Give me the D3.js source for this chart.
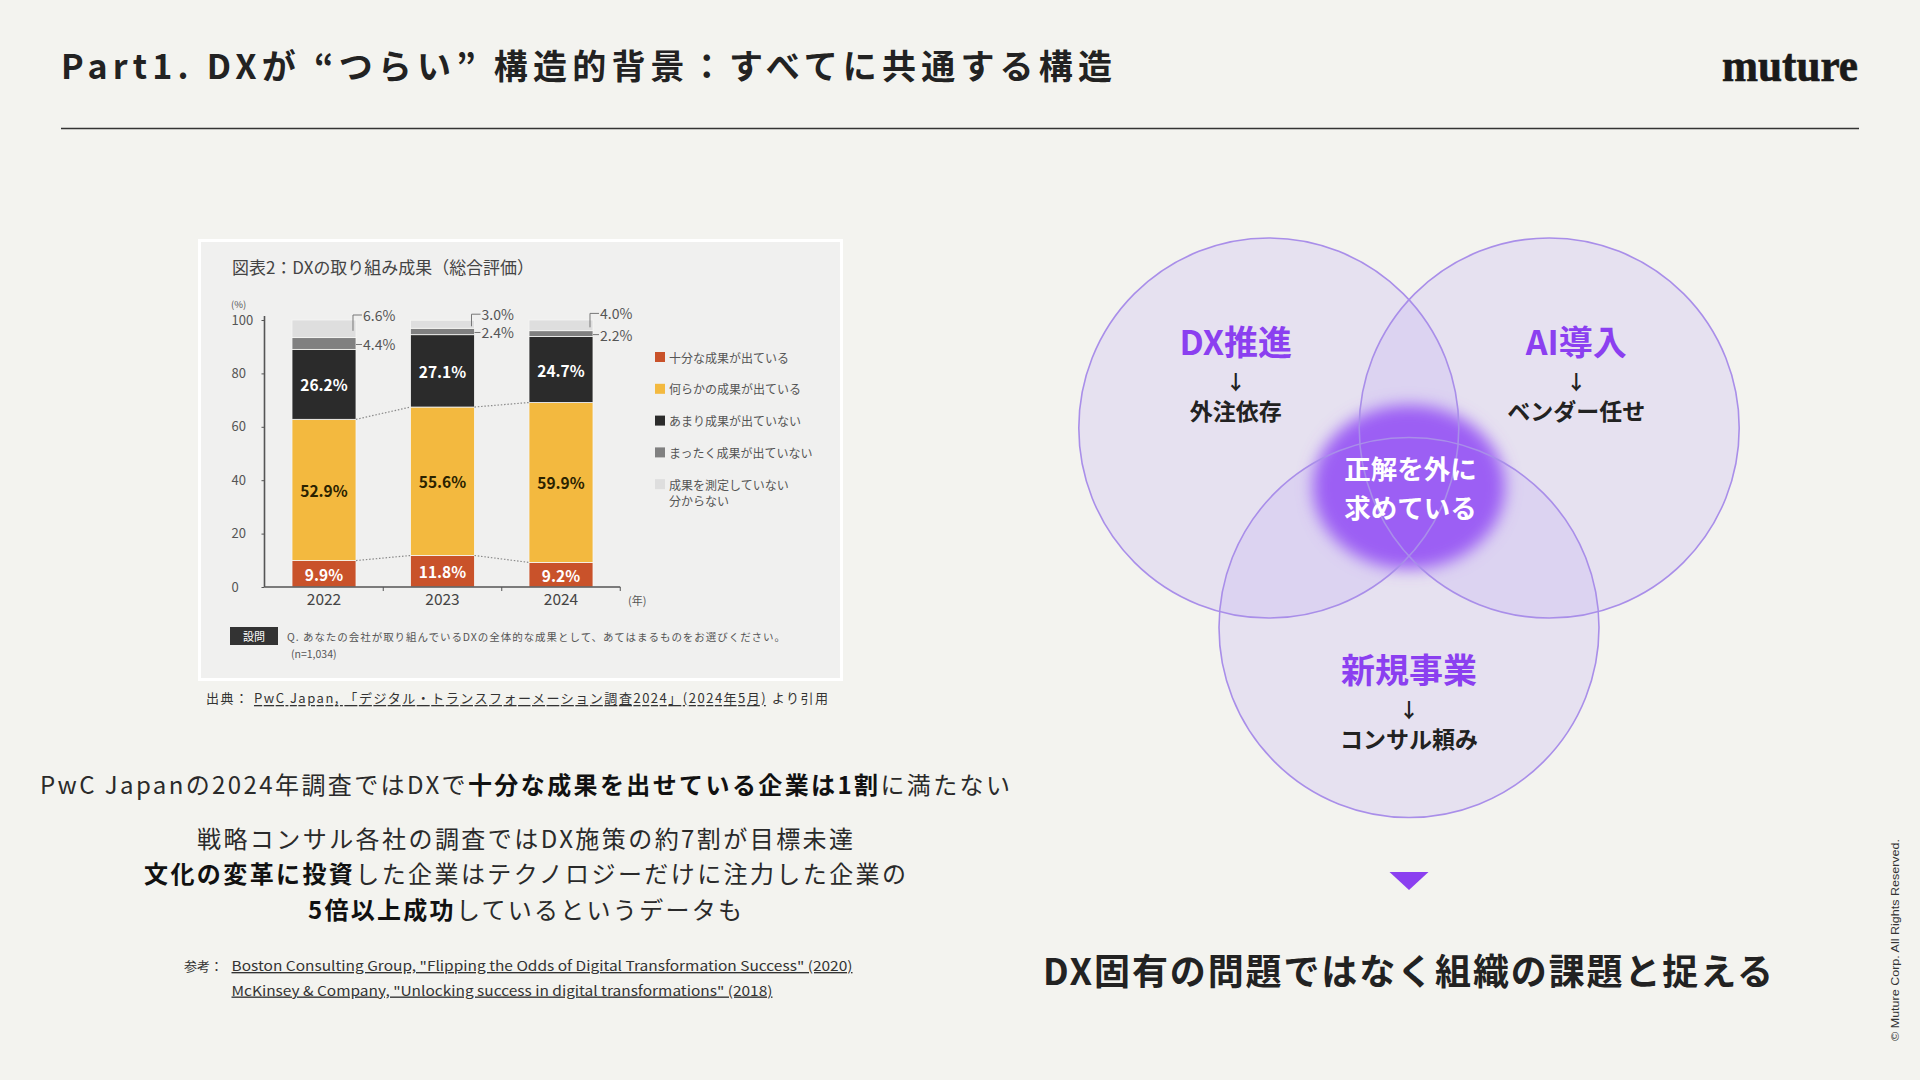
<!DOCTYPE html>
<html><head><meta charset="utf-8">
<script src="https://cdn.jsdelivr.net/npm/d3@7/dist/d3.min.js"></script>
<style>
html,body{margin:0;padding:0;background:#f3f3ef;}
svg{display:block;}
text{font-family:"Noto Sans CJK JP","Noto Sans",sans-serif;}
</style></head>
<body>
<svg id="c" width="1920" height="1080"></svg>
<script>
// ---------- data ----------
const years = ["2022", "2023", "2024"];
const seriesNames = ["十分な成果が出ている", "何らかの成果が出ている", "あまり成果が出ていない", "まったく成果が出ていない", "成果を測定していない|分からない"];
const sufficient = [9.9, 11.8, 9.2];
const some = [52.9, 55.6, 59.9];
const little = [26.2, 27.1, 24.7];
const none = [4.4, 2.4, 2.2];
const unknown = [6.6, 3.0, 4.0];
const yTicks = [0, 20, 40, 60, 80, 100];
const seriesColors = ["#c9522a", "#f3b93f", "#2b2b2b", "#808080", "#dedede"];
const seriesLabelColors = ["#ffffff", "#2a2200", "#ffffff", null, null];

const vennTitles = ["DX推進", "AI導入", "新規事業"];
const vennSubs = ["外注依存", "ベンダー任せ", "コンサル頼み"];
const vennCenter = ["正解を外に", "求めている"];

const svg = d3.select("#c");
const purple = "#8b3ff0";

// ---------- header ----------
svg.append("text").attr("x", 61).attr("y", 64).attr("dominant-baseline", "central")
  .attr("font-size", 34).attr("font-weight", 700).attr("fill", "#222")
  .attr("textLength", 1051).attr("lengthAdjust", "spacing")
  .text("Part1. DXが “つらい” 構造的背景：すべてに共通する構造");
svg.append("text").attr("x", 1722).attr("y", 81)
  .style("font-family", "'Liberation Serif','DejaVu Serif',serif")
  .attr("font-size", 46).attr("font-weight", 700).attr("fill", "#1a1a1a")
  .attr("stroke", "#1a1a1a").attr("stroke-width", 0.7)
  .attr("textLength", 136).attr("lengthAdjust", "spacingAndGlyphs")
  .text("muture");
svg.append("line").attr("x1", 61).attr("x2", 1859).attr("y1", 128.5).attr("y2", 128.5)
  .attr("stroke", "#333").attr("stroke-width", 1.5);

// ---------- embedded chart ----------
svg.append("rect").attr("x", 198).attr("y", 239).attr("width", 645).attr("height", 442).attr("fill", "#ffffff");
svg.append("rect").attr("x", 201).attr("y", 242).attr("width", 639).attr("height", 436).attr("fill", "#f0f0ef");

svg.append("text").attr("x", 232).attr("y", 266).attr("dominant-baseline", "central")
  .attr("font-size", 17).attr("fill", "#444").attr("textLength", 302).attr("lengthAdjust", "spacingAndGlyphs")
  .text("図表2：DXの取り組み成果（総合評価）");

const x = d3.scaleBand().domain(years).range([264.75, 620.25]).paddingInner(0.46).paddingOuter(0.23);
const y = d3.scaleLinear().domain([0, 100]).range([587, 320]);

const table = years.map((yr, i) => ({ year: yr, s0: sufficient[i], s1: some[i], s2: little[i], s3: none[i], s4: unknown[i] }));
const keys = ["s0", "s1", "s2", "s3", "s4"];
const stacked = d3.stack().keys(keys)(table);

const chart = svg.append("g");
// bars
stacked.forEach((layer, li) => {
  chart.append("g").selectAll("rect").data(layer).join("rect")
    .attr("x", d => x(d.data.year)).attr("width", x.bandwidth())
    .attr("y", d => y(d[1])).attr("height", d => y(d[0]) - y(d[1]))
    .attr("fill", seriesColors[li]).attr("stroke", "#f6f6f4").attr("stroke-width", 0.8);
});
// in-bar labels
[0, 1, 2].forEach(li => {
  chart.append("g").selectAll("text").data(stacked[li]).join("text")
    .attr("x", d => x(d.data.year) + x.bandwidth() / 2)
    .attr("y", d => y((d[0] + d[1]) / 2)).attr("dominant-baseline", "central")
    .attr("text-anchor", "middle").attr("font-size", 15.5).attr("font-weight", 700)
    .attr("fill", seriesLabelColors[li])
    .text(d => (d[1] - d[0]).toFixed(1) + "%");
});
// connectors
[0, 1].forEach(li => {
  const layer = stacked[li];
  for (let i = 0; i < layer.length - 1; i++) {
    chart.append("line")
      .attr("x1", x(years[i]) + x.bandwidth()).attr("y1", y(layer[i][1]))
      .attr("x2", x(years[i + 1])).attr("y2", y(layer[i + 1][1]))
      .attr("stroke", "#8a8a8a").attr("stroke-width", 1.2).attr("stroke-dasharray", "1.5,1.8");
  }
});
// small segment annotations
years.forEach((yr, i) => {
  const right = x(yr) + x.bandwidth();
  const top = stacked[4][i];
  const gray = stacked[3][i];
  const ty = y(100) - 5 + i * -0.8;
  chart.append("path")
    .attr("d", `M${right - 3},${y((top[0] + top[1]) / 2) + 2} V${ty} H${right + 6}`)
    .attr("fill", "none").attr("stroke", "#777").attr("stroke-width", 1);
  chart.append("text").attr("x", right + 7).attr("y", ty).attr("dominant-baseline", "central")
    .attr("font-size", 14).attr("fill", "#555").text(unknown[i].toFixed(1) + "%");
  const gy = y((gray[0] + gray[1]) / 2) + 1;
  chart.append("line").attr("x1", right).attr("x2", right + 6).attr("y1", gy).attr("y2", gy)
    .attr("stroke", "#777").attr("stroke-width", 1);
  chart.append("text").attr("x", right + 7).attr("y", gy).attr("dominant-baseline", "central")
    .attr("font-size", 14).attr("fill", "#555").text(none[i].toFixed(1) + "%");
});
// y axis
const yAxis = chart.append("g").attr("transform", "translate(264.5,0)")
  .call(d3.axisLeft(y).tickValues(yTicks).tickSize(3).tickFormat(d3.format("d")));
yAxis.select(".domain").attr("stroke", "#555").attr("stroke-width", 1.6).attr("d", `M0,${y(100) - 4}V${y(0)}`);
yAxis.selectAll(".tick line").attr("stroke", "#555");
yAxis.selectAll(".tick text").attr("x", -33).attr("text-anchor", "start")
  .attr("font-size", 13).attr("fill", "#555").style("font-family", "'Noto Sans CJK JP',sans-serif");
chart.append("text").attr("x", 231).attr("y", 304).attr("dominant-baseline", "central")
  .attr("font-size", 9.5).attr("fill", "#555").text("(%)");
// x axis
const xAxis = chart.append("g").attr("transform", `translate(0,${y(0)})`)
  .call(d3.axisBottom(x).tickSize(0).tickPadding(7));
xAxis.select(".domain").attr("stroke", "#555").attr("stroke-width", 1.6).attr("d", "M264.5,0H620.25");
xAxis.selectAll(".tick text").attr("font-size", 15.5).attr("fill", "#444")
  .style("font-family", "'Noto Sans CJK JP',sans-serif");
years.slice(1).concat(["end"]).forEach((yr) => {
  const bx = yr === "end" ? 620.25 : x(yr) - x.step() * x.paddingInner() / 2;
  chart.append("line").attr("x1", bx).attr("x2", bx).attr("y1", y(0)).attr("y2", y(0) + 4)
    .attr("stroke", "#555").attr("stroke-width", 1);
});
chart.append("text").attr("x", 628).attr("y", 600).attr("dominant-baseline", "central")
  .attr("font-size", 11).attr("fill", "#555").text("(年)");
// legend
const lg = chart.append("g").selectAll("g").data(seriesNames).join("g")
  .attr("transform", (d, i) => `translate(655,${357 + i * 31.8})`);
lg.append("rect").attr("x", 0).attr("y", -5).attr("width", 10).attr("height", 10)
  .attr("fill", (d, i) => seriesColors[i]);
lg.each(function (d) {
  const parts = d.split("|");
  parts.forEach((p, j) => {
    d3.select(this).append("text").attr("x", 14).attr("y", j * 16).attr("dominant-baseline", "central")
      .attr("font-size", 12).attr("fill", "#555").text(p);
  });
});
// question
chart.append("rect").attr("x", 230).attr("y", 627).attr("width", 48).attr("height", 18).attr("fill", "#333");
chart.append("text").attr("x", 254).attr("y", 636).attr("dominant-baseline", "central").attr("text-anchor", "middle")
  .attr("font-size", 11).attr("fill", "#fff").text("設問");
chart.append("text").attr("x", 287).attr("y", 636).attr("dominant-baseline", "central")
  .attr("font-size", 10.5).attr("fill", "#555").attr("textLength", 498).attr("lengthAdjust", "spacing")
  .text("Q. あなたの会社が取り組んでいるDXの全体的な成果として、あてはまるものをお選びください。");
chart.append("text").attr("x", 291).attr("y", 653).attr("dominant-baseline", "central")
  .attr("font-size", 10.5).attr("fill", "#555").text("(n=1,034)");

// source line
const src = svg.append("text").attr("x", 206).attr("y", 697).attr("dominant-baseline", "central")
  .attr("font-size", 13).attr("fill", "#333").attr("textLength", 622).attr("lengthAdjust", "spacing");
src.append("tspan").text("出典： ");
src.append("tspan").attr("text-decoration", "underline").text("PwC Japan, 「デジタル・トランスフォーメーション調査2024」(2024年5月)");
src.append("tspan").text(" より引用");

// ---------- body text ----------
function richLine(xp, yp, anchor, len, parts) {
  const t = svg.append("text").attr("x", xp).attr("y", yp).attr("dominant-baseline", "central")
    .attr("text-anchor", anchor).attr("font-size", 24).attr("fill", "#222")
    .attr("textLength", len).attr("lengthAdjust", "spacing");
  parts.forEach(p => t.append("tspan").attr("font-weight", p[1] ? 700 : 400).attr("fill", p[1] ? "#111" : "#2a2a2a").text(p[0]));
}
richLine(40, 783, "start", 970, [["PwC Japanの2024年調査ではDXで", 0], ["十分な成果を出せている企業は1割", 1], ["に満たない", 0]]);
richLine(525, 837, "middle", 656, [["戦略コンサル各社の調査ではDX施策の約7割が目標未達", 0]]);
richLine(525, 872, "middle", 762, [["文化の変革に投資", 1], ["した企業はテクノロジーだけに注力した企業の", 0]]);
richLine(525, 908, "middle", 434, [["5倍以上成功", 1], ["しているというデータも", 0]]);

svg.append("text").attr("x", 184).attr("y", 965).attr("dominant-baseline", "central")
  .attr("font-size", 13).attr("fill", "#333").text("参考：");
svg.append("text").attr("x", 231.5).attr("y", 965).attr("dominant-baseline", "central")
  .attr("font-size", 13.5).attr("fill", "#333").attr("text-decoration", "underline")
  .attr("textLength", 621).attr("lengthAdjust", "spacingAndGlyphs")
  .text("Boston Consulting Group, \"Flipping the Odds of Digital Transformation Success\" (2020)");
svg.append("text").attr("x", 231.5).attr("y", 989.5).attr("dominant-baseline", "central")
  .attr("font-size", 13.5).attr("fill", "#333").attr("text-decoration", "underline")
  .attr("textLength", 541).attr("lengthAdjust", "spacingAndGlyphs")
  .text("McKinsey & Company, \"Unlocking success in digital transformations\" (2018)");

// ---------- venn ----------
const defs = svg.append("defs");
defs.append("filter").attr("id", "blur").attr("x", "-50%").attr("y", "-50%").attr("width", "200%").attr("height", "200%")
  .append("feGaussianBlur").attr("stdDeviation", 8);

const vc = { x: 1409, y: 494 }; // reference point of the diagram
const R = 190;
const dx = 140.2, dyTop = 66, dyBot = 133.5;
const circles = [
  { cx: vc.x - dx, cy: vc.y - dyTop },
  { cx: vc.x + dx, cy: vc.y - dyTop },
  { cx: vc.x, cy: vc.y + dyBot }
];
const venn = svg.append("g");
venn.selectAll("circle.v").data(circles).join("circle").attr("class", "v")
  .attr("cx", d => d.cx).attr("cy", d => d.cy).attr("r", R)
  .attr("fill", "rgba(180,155,244,0.2)").attr("stroke", "none");
venn.append("ellipse").attr("cx", vc.x).attr("cy", vc.y - 7).attr("rx", 96).attr("ry", 82)
  .attr("fill", "#9c5ef4").attr("filter", "url(#blur)");
venn.selectAll("circle.o").data(circles).join("circle").attr("class", "o")
  .attr("cx", d => d.cx).attr("cy", d => d.cy).attr("r", R)
  .attr("fill", "none").attr("stroke", "#a98ee9").attr("stroke-width", 1.6);

const labelPos = [
  { x: circles[0].cx - 33, y: 340 },
  { x: circles[1].cx + 27, y: 340 },
  { x: circles[2].cx, y: 668 }
];
labelPos.forEach((p, i) => {
  venn.append("text").attr("x", p.x).attr("y", p.y).attr("text-anchor", "middle").attr("dominant-baseline", "central")
    .attr("font-size", 34).attr("font-weight", 700).attr("fill", purple).text(vennTitles[i]);
  venn.append("text").attr("x", p.x).attr("y", p.y + 41).attr("text-anchor", "middle").attr("dominant-baseline", "central")
    .attr("font-size", 20).attr("font-weight", 700).attr("fill", "#222").text("↓");
  venn.append("text").attr("x", p.x).attr("y", p.y + 70).attr("text-anchor", "middle").attr("dominant-baseline", "central")
    .attr("font-size", 23).attr("font-weight", 700).attr("fill", "#222").text(vennSubs[i]);
});
vennCenter.forEach((t, i) => {
  venn.append("text").attr("x", vc.x + 1.5).attr("y", 467 + i * 39).attr("text-anchor", "middle").attr("dominant-baseline", "central")
    .attr("font-size", 26.5).attr("font-weight", 700).attr("fill", "#fff").text(t);
});

// arrow + conclusion
svg.append("path").attr("d", `M${vc.x - 19.5},872 H${vc.x + 19.5} L${vc.x},890 Z`).attr("fill", purple);
svg.append("text").attr("x", 1408).attr("y", 969).attr("text-anchor", "middle").attr("dominant-baseline", "central")
  .attr("font-size", 36).attr("font-weight", 700).attr("fill", "#222")
  .attr("textLength", 730).attr("lengthAdjust", "spacing")
  .text("DX固有の問題ではなく組織の課題と捉える");

// copyright
svg.append("text").attr("transform", "translate(1895,940) rotate(-90)")
  .attr("text-anchor", "middle").attr("dominant-baseline", "central")
  .style("font-family", "'Liberation Sans',Arial,sans-serif")
  .attr("font-size", 11.5).attr("fill", "#333").attr("textLength", 202).attr("lengthAdjust", "spacingAndGlyphs")
  .text("© Muture Corp. All Rights Reserved.");
</script>
</body></html>
